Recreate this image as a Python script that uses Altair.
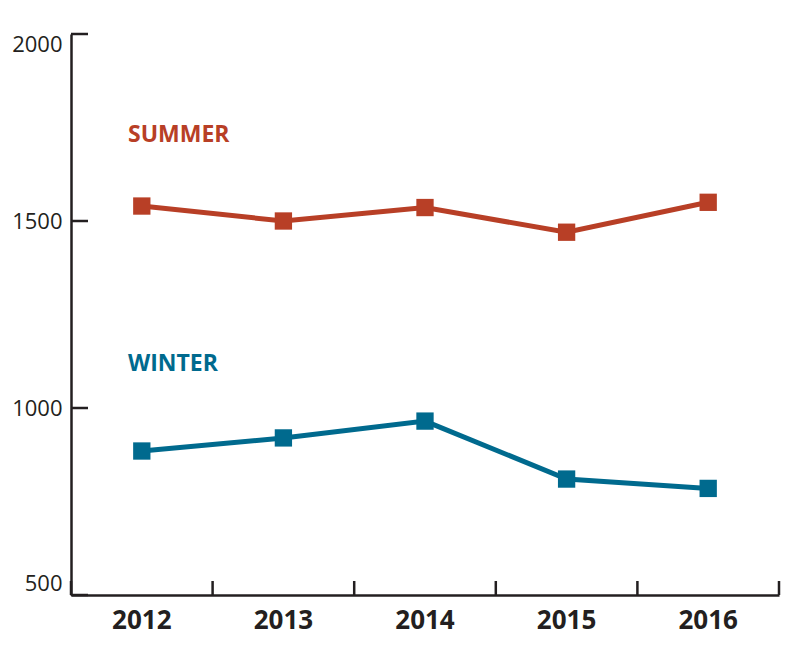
import altair as alt
import pandas as pd

years = ["2012", "2013", "2014", "2015", "2016"]
summer = [1540, 1500, 1536, 1470, 1550]
winter = [885, 920, 965, 810, 785]
y_ticks = [500, 1000, 1500, 2000]
series_names = ["Summer", "Winter"]
series_labels = ["SUMMER", "WINTER"]
label_values = [1710, 1100]
colors = ["#b83f26", "#006a8e"]
ink = "#231f20"
font = "Open Sans"

df = pd.DataFrame(
    [{"year": y, "season": "Summer", "value": v} for y, v in zip(years, summer)]
    + [{"year": y, "season": "Winter", "value": v} for y, v in zip(years, winter)]
)
lab_df = pd.DataFrame({"year": ["2012", "2012"], "season": series_names,
                       "label": series_labels, "value": label_values})
ytick_df = pd.DataFrame({"value": y_ticks})
xtick_df = pd.DataFrame({"year": years})
xend_df = pd.DataFrame({"year": [years[-1]]})

W, H = 708, 561

xscale = alt.Scale(type="band", domain=years, paddingInner=0, paddingOuter=0)
yscale = alt.Scale(domain=[500, 2000], nice=False, zero=False)
cscale = alt.Scale(domain=series_names, range=colors)

x_axis = alt.Axis(title=None, ticks=False, grid=False, labelAngle=0,
                  bandPosition=0.5, labelAlign="center", labelBaseline="top",
                  labelFont=font, labelFontSize=26, labelFontWeight="bold",
                  labelColor=ink, labelPadding=12, domainColor=ink, domainWidth=2.5)
y_axis = alt.Axis(title=None, ticks=False, grid=False, values=y_ticks, format="d",
                  labelFont=font, labelFontSize=22, labelColor=ink, labelFlush=True,
                  labelPadding=9, domainColor=ink, domainWidth=2.5)

base = alt.Chart(df)
lines = base.mark_line(strokeWidth=5).encode(
    x=alt.X("year:N", scale=xscale, axis=x_axis),
    y=alt.Y("value:Q", scale=yscale, axis=y_axis),
    color=alt.Color("season:N", scale=cscale, legend=None),
)
points = base.mark_point(shape="square", filled=True, size=300, opacity=1).encode(
    x=alt.X("year:N", scale=xscale),
    y=alt.Y("value:Q", scale=yscale),
    color=alt.Color("season:N", scale=cscale, legend=None),
)
labels = alt.Chart(lab_df).mark_text(
    align="left", baseline="alphabetic", font=font, fontSize=23,
    fontWeight="bold", dx=57
).encode(
    x=alt.X("year:N", scale=xscale, bandPosition=0),
    y=alt.Y("value:Q", scale=yscale),
    color=alt.Color("season:N", scale=cscale, legend=None),
    text="label:N",
)
yticks = alt.Chart(ytick_df).mark_rule(color=ink, strokeWidth=2.5).encode(
    y=alt.Y("value:Q", scale=yscale),
    x=alt.value(0), x2=alt.value(17),
)
xticks = alt.Chart(xtick_df).mark_rule(color=ink, strokeWidth=2.5).encode(
    x=alt.X("year:N", scale=xscale, bandPosition=0),
    y=alt.value(H), y2=alt.value(H - 14),
)
xend = alt.Chart(xend_df).mark_rule(color=ink, strokeWidth=2.5).encode(
    x=alt.X("year:N", scale=xscale, bandPosition=1),
    y=alt.value(H), y2=alt.value(H - 14),
)

chart = alt.layer(lines, points, labels, yticks, xticks, xend).properties(
    width=W, height=H,
    autosize=alt.AutoSizeParams(type="none"),
    padding={"left": 63, "top": 26, "right": 2, "bottom": 50},
    background="white",
).configure_view(stroke=None)

chart.save("out.html", embed_options={"renderer": "svg", "actions": False})
